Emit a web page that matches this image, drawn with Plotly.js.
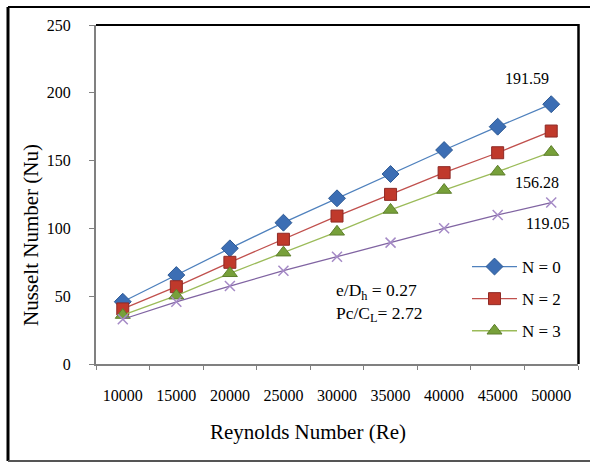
<!DOCTYPE html>
<html>
<head>
<meta charset="utf-8">
<script src="https://cdn.plot.ly/plotly-3.0.1.min.js"></script>
<style>html,body{margin:0;padding:0;background:#fff}#chart{width:590px;height:463px}</style>
</head>
<body>
<div id="chart"></div>
<script>
var reynolds = ["10000","15000","20000","25000","30000","35000","40000","45000","50000"];
var nuN0 = [45.9, 65.6, 85.3, 104.2, 122.2, 140.1, 157.8, 175.0, 191.59];
var nuN2 = [40.6, 57.0, 75.0, 92.0, 109.1, 125.1, 141.1, 155.8, 171.8];
var nuN3 = [36.1, 50.4, 66.9, 82.1, 97.5, 113.6, 128.3, 141.8, 156.28];
var nuN4 = [33.0, 45.9, 57.5, 68.8, 79.1, 89.5, 100.1, 109.9, 119.05];
var seriesNames = ["N = 0", "N = 2", "N = 3", "N = 4"];
var endLabels = ["191.59", "156.28", "119.05"];

var font = "Liberation Serif, Times New Roman, serif";

function tr(y, name, lineColor, mColor, mLine, symbol, size, show, grp) {
  return {
    x: reynolds, y: y, name: name, type: "scatter", mode: "lines+markers",
    line: {color: lineColor, width: 1.3},
    marker: {symbol: symbol, size: size, color: mColor, line: {color: mLine, width: 1}},
    showlegend: show, legendgroup: grp
  };
}
var data = [
  tr(nuN0, seriesNames[0], "#4F81BD", "#3C6EB4", "#2E5A94", "diamond", 13, true, "g0"),
  tr(nuN2, seriesNames[1], "#C0504D", "#C0392B", "#8E2A26", "square", 12, true, "g1"),
  tr(nuN3, seriesNames[2], "#9BBB59", "#77A03A", "#5E7F2C", "triangle-up", 13, true, "g2"),
  tr(nuN4, seriesNames[3], "#8064A2", "#A58AC6", "#8064A2", "x-thin-open", 10, false, "g3")
];
data[3].marker.line.width = 1.5;

var L = 96, R = 578, T = 25, B = 364, W = 590, H = 463;
var pw = R - L, ph = B - T;
function px(x){ return (x - L) / pw; }
function py(y){ return (B - y) / ph; }

function ann(x, y, text, size, extra) {
  var a = {xref: "paper", yref: "paper", x: px(x), y: py(y), text: text, showarrow: false,
    xanchor: "center", yanchor: "middle", font: {family: font, size: size, color: "#000"}};
  for (var k in (extra || {})) a[k] = extra[k];
  return a;
}

var layout = {
  width: W, height: H,
  margin: {l: L, r: W - R, t: T, b: H - B, pad: 0},
  paper_bgcolor: "#fff", plot_bgcolor: "#fff",
  font: {family: font, color: "#000", size: 16},
  showlegend: true,
  legend: {x: px(467), y: py(249), xanchor: "left", yanchor: "top",
    font: {family: font, size: 17, color: "#000"}, tracegroupgap: 7, itemwidth: 45,
    bgcolor: "rgba(0,0,0,0)"},
  xaxis: {
    type: "category", tickson: "boundaries", range: [-0.5, 8.5],
    showgrid: false, zeroline: false, showline: true, linecolor: "#808080", linewidth: 2,
    ticks: "outside", ticklen: 4, tickcolor: "#808080", tickwidth: 1,
    tickfont: {family: font, size: 16, color: "#000"}, ticklabelstandoff: 16
  },
  yaxis: {
    range: [0, 250], tickvals: [0, 50, 100, 150, 200, 250],
    showgrid: false, zeroline: false, showline: true, linecolor: "#808080", linewidth: 2,
    ticks: "outside", ticklen: 5, tickcolor: "#808080", tickwidth: 1,
    tickfont: {family: font, size: 16, color: "#000"}, ticklabelstandoff: 15
  },
  shapes: [
    {type: "line", xref: "paper", yref: "paper", x0: px(96), x1: px(579), y0: 1, y1: 1, line: {color: "#000", width: 2}},
    {type: "line", xref: "paper", yref: "paper", x0: px(578.5), x1: px(578.5), y0: 0, y1: py(24), line: {color: "#000", width: 2.5}},
    {type: "line", xref: "paper", yref: "paper", x0: px(8), x1: px(590), y0: py(7), y1: py(7), line: {color: "#000", width: 2}},
    {type: "line", xref: "paper", yref: "paper", x0: px(8), x1: px(8), y0: py(7), y1: py(461), line: {color: "#000", width: 3}},
    {type: "line", xref: "paper", yref: "paper", x0: px(8), x1: px(590), y0: py(461), y1: py(461), line: {color: "#555", width: 2}}
  ],
  annotations: [
    ann(308, 432, "Reynolds Number (Re)", 21),
    ann(31, 235, "Nusselt Number (Nu)", 21, {textangle: -90}),
    ann(527, 78, endLabels[0], 16),
    ann(537, 182, endLabels[1], 16),
    ann(547, 223, endLabels[2], 16),
    ann(334, 278, "e/D<sub>h</sub> = 0.27<br>Pc/C<sub>L</sub>= 2.72", 17.5, {xanchor: "left", yanchor: "top", align: "left"})
  ]
};

Plotly.newPlot("chart", data, layout, {displayModeBar: false, staticPlot: true});
</script>
</body>
</html>
